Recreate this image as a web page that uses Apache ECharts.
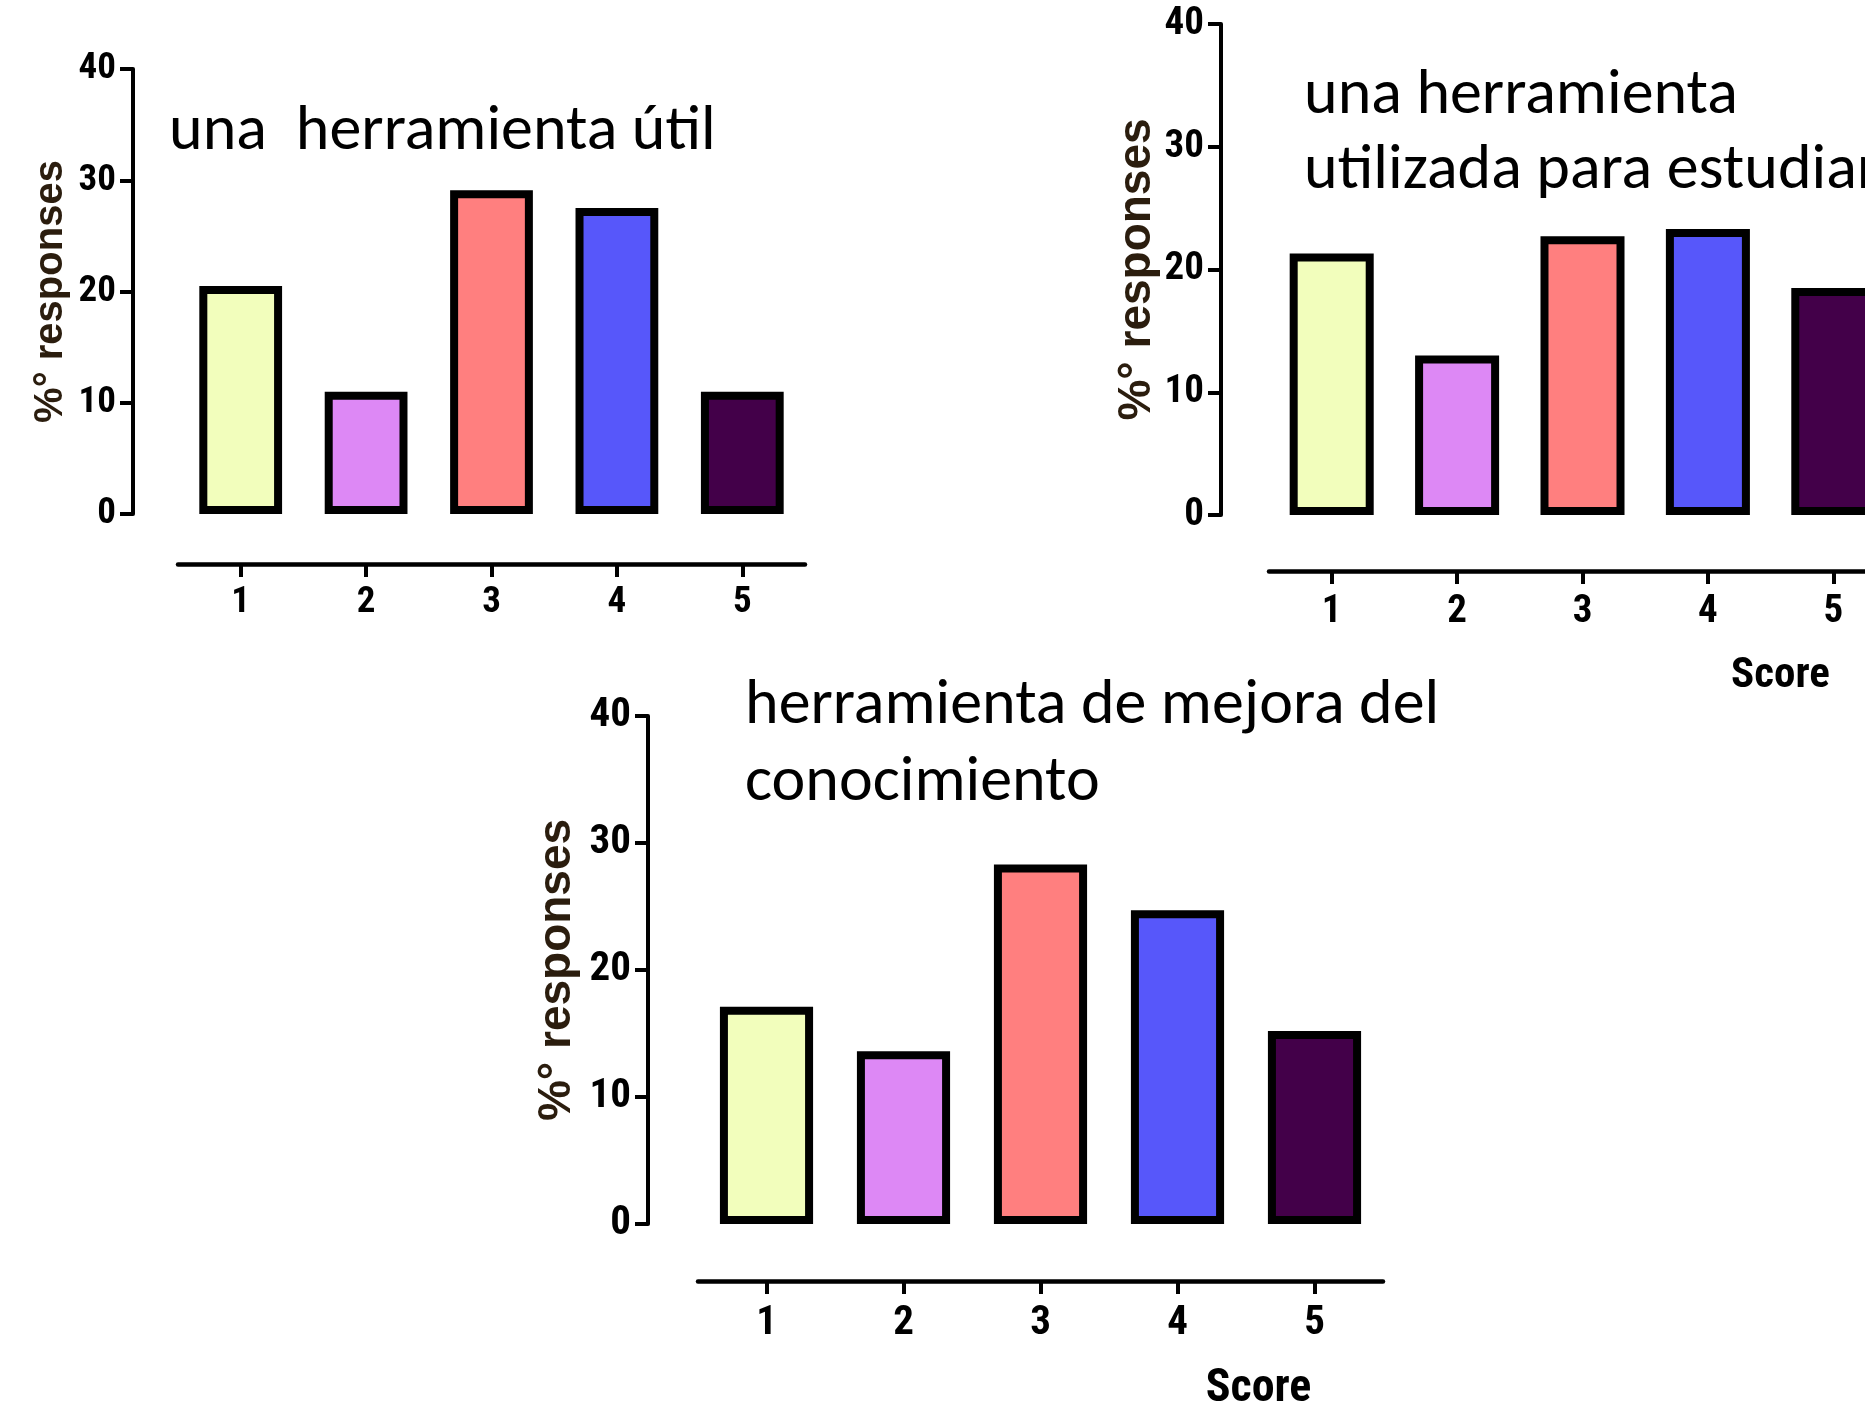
<!DOCTYPE html>
<html>
<head>
<meta charset="utf-8">
<script src="https://cdn.jsdelivr.net/npm/echarts@6/dist/echarts.min.js"></script>
<style>
  html, body { margin: 0; padding: 0; background: #ffffff; }
  #chart { width: 1865px; height: 1410px; }
</style>
</head>
<body>
<div id="chart"></div>
<script>
// ---- data ----
const categories = ['1', '2', '3', '4', '5'];
const utilValues = [20.5, 11.0, 29.1, 27.5, 11.0];          // una herramienta útil
const estudiarValues = [21.3, 13.0, 22.7, 23.3, 18.5];      // una herramienta utilizada para estudiar
const mejoraValues = [17.1, 13.6, 28.3, 24.7, 15.2];        // herramienta de mejora del conocimiento
const yTicks = [0, 10, 20, 30, 40];
const panelTitles = [
  'una  herramienta útil',
  'una herramienta\nutilizada para estudiar',
  'herramienta de mejora del\nconocimiento'
];
const yName = '%° responses';
const xName = 'Score';

// ---- styles ----
const barColors = ['#F2FEBC', '#DD88F5', '#FF7F7F', '#5757FA', '#430049'];
const narrow = '"Roboto Condensed", Roboto, "Liberation Sans", sans-serif';
const titleFont = 'Carlito, Lato, sans-serif';

const panels = [
  { grid: { left: 178, top: 69, width: 627, height: 445 }, xOff: 50, yOff: 45, tick: 37, yNameSize: 40, yGap: 62,
    xMargin: 20, title: { left: 169, top: 95, lh: 75 }, showX: false, barW: '66%', values: utilValues },
  { grid: { left: 1269, top: 24, width: 627, height: 491 }, xOff: 56, yOff: 48, tick: 39, yNameSize: 46, yGap: 52,
    xMargin: 22, title: { left: 1304, top: 59, lh: 75 }, showX: true, xGap: 84, xPad: 396, xNameSize: 43, barW: '67%', values: estudiarValues },
  { grid: { left: 698, top: 716, width: 685, height: 508 }, xOff: 57, yOff: 50, tick: 41, yNameSize: 46, yGap: 68,
    xMargin: 22, title: { left: 745, top: 668, lh: 77 }, showX: true, xGap: 85, xPad: 436, xNameSize: 46, barW: '68%', values: mejoraValues }
];

const option = {
  backgroundColor: '#ffffff',
  animation: false,
  title: panels.map((p, i) => ({
    text: panelTitles[i],
    left: p.title.left,
    top: p.title.top,
    padding: 0,
    textStyle: { fontFamily: titleFont, fontSize: 64, fontWeight: 'normal', color: '#000000', lineHeight: p.title.lh }
  })),
  grid: panels.map(p => Object.assign({ containLabel: false, outerBoundsMode: 'none' }, p.grid)),
  xAxis: panels.map((p, i) => ({
    type: 'category',
    gridIndex: i,
    data: categories,
    offset: p.xOff,
    axisLine: { show: true, onZero: false, lineStyle: { color: '#000000', width: 4.5 } },
    axisTick: { show: true, alignWithLabel: true, length: 13, lineStyle: { color: '#000000', width: 4 } },
    axisLabel: { margin: p.xMargin, fontFamily: narrow, fontWeight: 'bold', fontSize: p.tick, color: '#000000' },
    splitLine: { show: false },
    name: p.showX ? xName : '',
    nameLocation: 'middle',
    nameGap: p.xGap || 0,
    nameTextStyle: { fontFamily: narrow, fontWeight: 'bold', fontSize: p.xNameSize || 40, color: '#000000',
      padding: [0, 0, 0, p.xPad || 0] }
  })),
  yAxis: panels.map((p, i) => ({
    type: 'value',
    gridIndex: i,
    min: 0,
    max: 40,
    interval: 10,
    offset: p.yOff,
    axisLine: { show: true, onZero: false, lineStyle: { color: '#000000', width: 4 } },
    axisTick: { show: true, length: 13, lineStyle: { color: '#000000', width: 4 } },
    axisLabel: { margin: 17, fontFamily: narrow, fontWeight: 'bold', fontSize: p.tick, color: '#000000',
      customValues: yTicks },
    splitLine: { show: false },
    name: yName,
    nameLocation: 'middle',
    nameRotate: 90,
    nameGap: p.yGap,
    nameTextStyle: { fontFamily: '"Liberation Sans", Arial, sans-serif', fontWeight: 'bold', fontSize: p.yNameSize, color: '#2b1d0e' }
  })),
  series: panels.map((p, i) => ({
    type: 'bar',
    xAxisIndex: i,
    yAxisIndex: i,
    barWidth: p.barW,
    data: p.values.map((v, j) => ({
      value: v,
      itemStyle: { color: barColors[j], borderColor: '#000000', borderWidth: 8 }
    }))
  }))
};

const chart = echarts.init(document.getElementById('chart'), null, { renderer: 'canvas' });
chart.setOption(option);
</script>
</body>
</html>
